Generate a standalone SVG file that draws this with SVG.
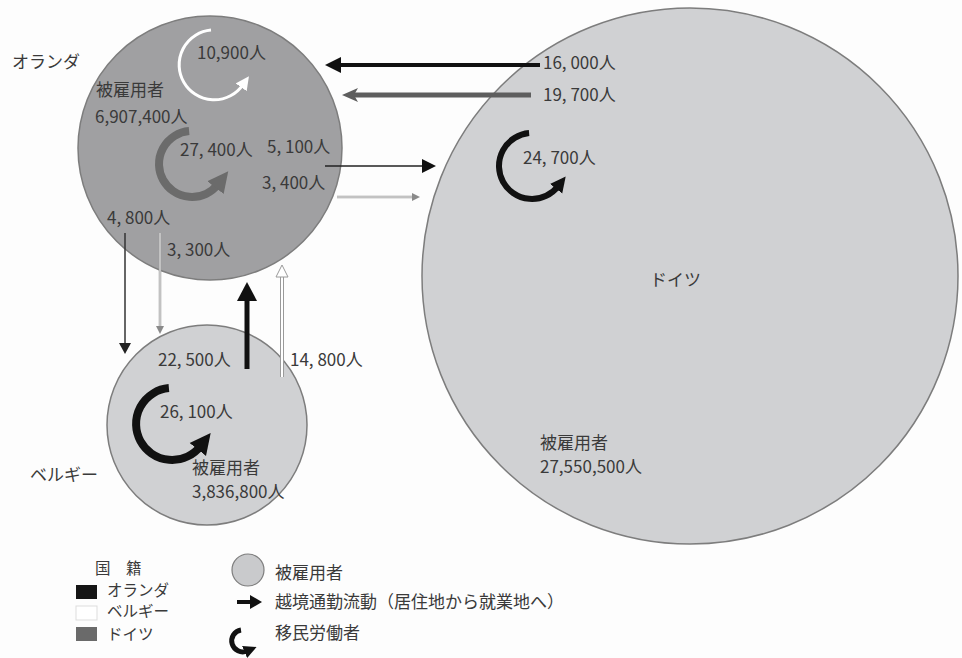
<svg xmlns="http://www.w3.org/2000/svg" width="962" height="658" viewBox="0 0 962 658">
<style>
text{font-family:"Noto Sans CJK JP","Noto Sans",sans-serif;fill:#3a3a3a;font-size:17px}
.lg{font-size:15.5px}
.big{fill:#d0d1d3;stroke:#7d7d7d;stroke-width:1.5}
.nl{fill:#a0a0a2;stroke:#7d7d7d;stroke-width:1.5}
</style>
<defs>
<marker id="mw" viewBox="0 0 10 10" refX="2" refY="5" markerWidth="4.5" markerHeight="4.5" orient="auto" markerUnits="strokeWidth"><path d="M0,0 L10,5 L0,10 z" fill="#ffffff"/></marker>
<marker id="mg" viewBox="0 0 10 10" refX="2" refY="5" markerWidth="2.6" markerHeight="2.8" orient="auto" markerUnits="strokeWidth"><path d="M0,0 L10,5 L0,10 z" fill="#6b6b6b"/></marker>
<marker id="mb" viewBox="0 0 10 10" refX="2" refY="5" markerWidth="2.6" markerHeight="2.8" orient="auto" markerUnits="strokeWidth"><path d="M0,0 L10,5 L0,10 z" fill="#111"/></marker>
</defs>
<rect width="962" height="658" fill="#fdfdfd"/>

<g id="germany">
<circle class="big" cx="690" cy="276" r="268"/>
<text x="650" y="286">ドイツ</text>
<text x="540" y="449">被雇用者</text>
<text x="540" y="473">27,550,500人</text>
<path d="M529.1,133.1 A33,33 0 1 0 558,186.3" fill="none" stroke="#111" stroke-width="6" marker-end="url(#mb)"/>
<text x="523" y="164">24, 700人</text>
</g>

<g id="netherlands">
<circle class="nl" cx="210" cy="148" r="132"/>
<text x="12" y="68">オランダ</text>
<text x="96" y="96">被雇用者</text>
<text x="95" y="123">6,907,400人</text>
<path d="M211,30 A35,35 0 1 0 242.7,85.1" fill="none" stroke="#fff" stroke-width="3" marker-end="url(#mw)"/>
<text x="197" y="59">10,900人</text>
<path d="M189.1,131.1 A33,33 0 1 0 218,184.3" fill="none" stroke="#6b6b6b" stroke-width="8" marker-end="url(#mg)"/>
<text x="180" y="156">27, 400人</text>
</g>

<g id="belgium">
<circle class="big" cx="207" cy="425" r="100"/>
<text x="30" y="481">ベルギー</text>
<text x="192" y="474">被雇用者</text>
<text x="192" y="498">3,836,800人</text>
<path d="M168.9,388.1 A36,36 0 1 0 200.4,446.2" fill="none" stroke="#111" stroke-width="8" marker-end="url(#mb)"/>
<text x="160" y="418">26, 100人</text>
</g>

<g id="connectors">
<line x1="540" y1="65" x2="338" y2="65" stroke="#111" stroke-width="4"/>
<polygon points="325,65 341,57 341,73" fill="#111"/>
<text x="543" y="69">16, 000人</text>
<line x1="531" y1="95" x2="354" y2="95" stroke="#5e5e5e" stroke-width="5"/>
<polygon points="342,95 358,88 354,95 358,102" fill="#5e5e5e"/>
<text x="543" y="101">19, 700人</text>
<line x1="325" y1="166" x2="424" y2="166" stroke="#222" stroke-width="1.5"/>
<polygon points="436,166 422,159 422,173" fill="#111"/>
<text x="267" y="153">5, 100人</text>
<line x1="337" y1="197" x2="414" y2="197" stroke="#9a9a9a" stroke-width="2.5"/>
<line x1="337" y1="197" x2="414" y2="197" stroke="#fff" stroke-width="0.8"/>
<polygon points="420,197 412,193 412,201" fill="#8a8a8a"/>
<text x="262" y="189">3, 400人</text>
<line x1="125" y1="233" x2="125" y2="344" stroke="#333" stroke-width="1.5"/>
<polygon points="125,354 119,343 131,343" fill="#222"/>
<text x="107" y="224">4, 800人</text>
<line x1="160" y1="233" x2="160" y2="327" stroke="#9a9a9a" stroke-width="2.5"/>
<line x1="160" y1="233" x2="160" y2="327" stroke="#fff" stroke-width="0.8"/>
<polygon points="160,334 156,326 164,326" fill="#8a8a8a"/>
<text x="167" y="256">3, 300人</text>
<line x1="247" y1="369" x2="247" y2="298" stroke="#111" stroke-width="5"/>
<polygon points="247,282 237,301 257,301" fill="#111"/>
<text x="158" y="366">22, 500人</text>
<line x1="282" y1="377" x2="282" y2="276" stroke="#9a9a9a" stroke-width="4"/>
<line x1="282" y1="377" x2="282" y2="276" stroke="#fff" stroke-width="2"/>
<polygon points="282,265 276,277 288,277" fill="#fff" stroke="#9a9a9a" stroke-width="1"/>
<text x="290" y="366">14, 800人</text>
</g>

<g id="legend">
<text class="lg" x="95" y="574">国　籍</text>
<rect x="76" y="585" width="21" height="14" fill="#151515"/>
<text class="lg" x="107" y="596">オランダ</text>
<rect x="76" y="606" width="21" height="14" fill="#fff" stroke="#dddddd" stroke-width="1"/>
<text class="lg" x="107" y="617">ベルギー</text>
<rect x="76" y="627" width="21" height="14" fill="#6a6a6a"/>
<text class="lg" x="107" y="640">ドイツ</text>
<circle cx="248" cy="570" r="16" fill="#c9cacc" stroke="#7d7d7d" stroke-width="1.2"/>
<text x="275" y="579">被雇用者</text>
<line x1="237" y1="602" x2="252" y2="602" stroke="#111" stroke-width="4"/>
<polygon points="262,602 250,595 250,609" fill="#111"/>
<text x="275" y="608">越境通勤流動（居住地から就業地へ）</text>
<path d="M241,630 A11,11 0 1 0 247,651" fill="none" stroke="#111" stroke-width="5" marker-end="url(#mb)"/>
<text x="275" y="639">移民労働者</text>
</g>
</svg>
